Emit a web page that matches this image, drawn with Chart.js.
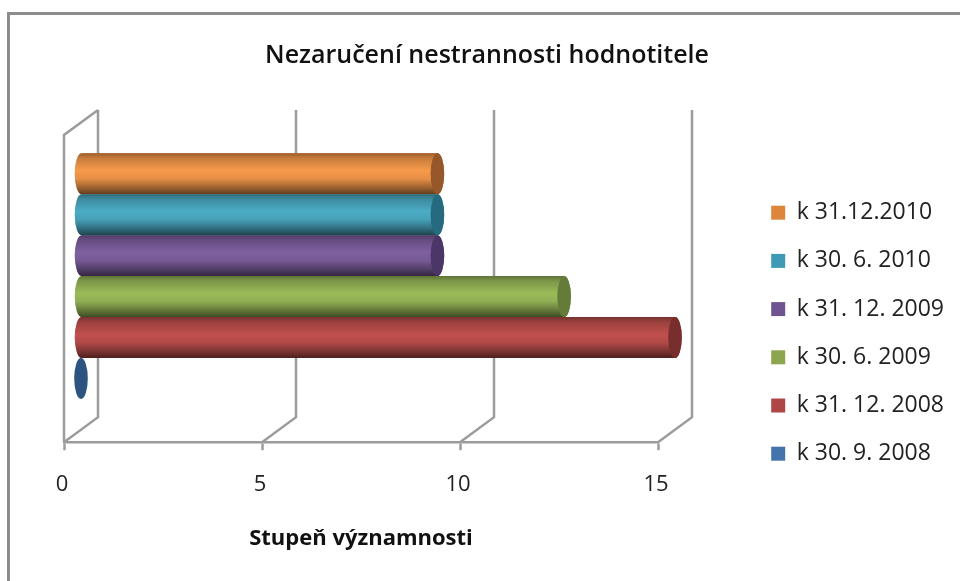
<!DOCTYPE html>
<html><head><meta charset="utf-8">
<style>html,body{margin:0;padding:0;background:#fff}#wrap{width:960px;height:581px;position:relative}canvas{display:block}</style>
<script src="https://cdn.jsdelivr.net/npm/chart.js@4"></script></head>
<body><div id="wrap"><canvas id="c" width="960" height="581"></canvas></div>
<script>
const categories = ['Stupeň'];
const seriesLabels = ['k 31.12.2010','k 30. 6. 2010','k 31. 12. 2009','k 30. 6. 2009','k 31. 12. 2008','k 30. 9. 2008'];
const seriesValues = [9, 9, 9, 12.2, 15, 0];
const xTicks = [0, 5, 10, 15];
const legendColors = ['#DD853B','#3F9BB5','#6F5491','#8BA64C','#AD4644','#4573AB'];
const bodyColors = ['#F79A4A','#4BACC6','#7F60A0','#9BBB59','#C0504D','#4F81BD'];
const capColors = ['#96582A','#256A7E','#4A3768','#647B3A','#772E2C','#2D5480'];
const DEPTH_X = 34, DEPTH_Y = 25, GRID = '#9c9c9c';

function shade(hex, f){
  const n = parseInt(hex.slice(1),16);
  const c = [(n>>16)&255,(n>>8)&255,n&255].map(v=>Math.round(v*f));
  return `rgb(${c[0]},${c[1]},${c[2]})`;
}
const threeD = {
  id:'threeD',
  afterLayout(chart){
    const t = chart.titleBlock, l = chart.legend;
    t.left = 14; t.right = 960;
    l.left = 746; l.right = 960; l.top = 176; l.bottom = 500;
  },
  beforeDraw(chart){
    const c = chart.ctx;
    c.save();
    c.fillStyle = '#fff'; c.fillRect(0,0,chart.width,chart.height);
    c.strokeStyle = '#8c8c8c'; c.lineWidth = 3;
    c.beginPath(); c.moveTo(8.5,581); c.lineTo(8.5,13.5); c.lineTo(960,13.5); c.stroke();
    c.restore();
  },
  beforeDatasetsDraw(chart){
    const c = chart.ctx, x = chart.scales.x, a = chart.chartArea;
    c.save();
    c.strokeStyle = GRID; c.lineWidth = 2.5;
    c.beginPath();
    xTicks.forEach(v=>{
      const p = x.getPixelForValue(v);
      c.moveTo(p, a.bottom); c.lineTo(p+DEPTH_X, a.bottom-DEPTH_Y);
      c.lineTo(p+DEPTH_X, a.top-DEPTH_Y);
    });
    c.moveTo(a.left, a.bottom); c.lineTo(a.left, a.top); c.lineTo(a.left+DEPTH_X, a.top-DEPTH_Y);
    c.stroke();
    c.restore();
    c.save();
    c.translate(DEPTH_X/2, -DEPTH_Y/2);
  },
  afterDatasetsDraw(chart){
    const c = chart.ctx;
    for(let i = 0; i < chart.data.datasets.length; i++){
      const el = chart.getDatasetMeta(i).data[0];
      const h = el.height, ry = h/2, rx = 6.8, x0 = el.base, x1 = el.x, yc = el.y;
      if(seriesValues[i] > 0){
        const g = c.createLinearGradient(0,yc-ry,0,yc+ry), col = bodyColors[i];
        g.addColorStop(0, shade(col,.62)); g.addColorStop(.12, shade(col,.8));
        g.addColorStop(.42, shade(col,1)); g.addColorStop(.62, shade(col,.93));
        g.addColorStop(.85, shade(col,.62)); g.addColorStop(1, shade(col,.4));
        c.fillStyle = g;
        c.beginPath();
        c.moveTo(x0, yc-ry); c.lineTo(x1, yc-ry);
        c.ellipse(x1, yc, rx, ry, 0, -Math.PI/2, Math.PI/2);
        c.lineTo(x0, yc+ry);
        c.ellipse(x0, yc, rx, ry, 0, Math.PI/2, Math.PI*1.5);
        c.closePath(); c.fill();
      }
      c.fillStyle = capColors[i];
      c.beginPath(); c.ellipse(x1, yc, rx, ry, 0, 0, Math.PI*2); c.fill();
    }
    c.restore();
  }
};
const FONT = '"Open Sans", Lato, sans-serif';
new Chart(document.getElementById('c'), {
  type:'bar',
  data:{ labels:categories,
    datasets:seriesLabels.map((s,i)=>({label:s,data:[seriesValues[i]],backgroundColor:legendColors[i],borderWidth:0}))},
  plugins:[threeD],
  options:{
    indexAxis:'y', responsive:false, animation:false,
    layout:{padding:{left:64,right:94,top:0,bottom:29}},
    datasets:{bar:{categoryPercentage:.8,barPercentage:1}},
    scales:{
      y:{display:false},
      x:{min:0,max:15,
        afterBuildTicks(s){s.ticks = xTicks.map(v=>({value:v}));},
        border:{display:true,color:GRID,width:2.5},
        grid:{drawOnChartArea:false,drawTicks:true,tickLength:8,tickWidth:2.5,tickColor:GRID},
        ticks:{color:'#222',font:{family:FONT,size:22},padding:21,maxRotation:0,labelOffset:-2},
        title:{display:true,text:'Stupeň významnosti',color:'#111',font:{family:FONT,size:22,weight:'bold'},padding:{top:7,bottom:0}}
      }
    },
    plugins:{
      title:{display:true,text:'Nezaručení nestrannosti hodnotitele',color:'#111',font:{family:FONT,size:25,weight:'600'},padding:{top:41,bottom:64}},
      legend:{position:'right',align:'start',labels:{boxWidth:14,boxHeight:14,color:'#222',font:{family:FONT,size:23},padding:25.2}},
      tooltip:{enabled:false}
    }
  }
});
</script></body></html>
